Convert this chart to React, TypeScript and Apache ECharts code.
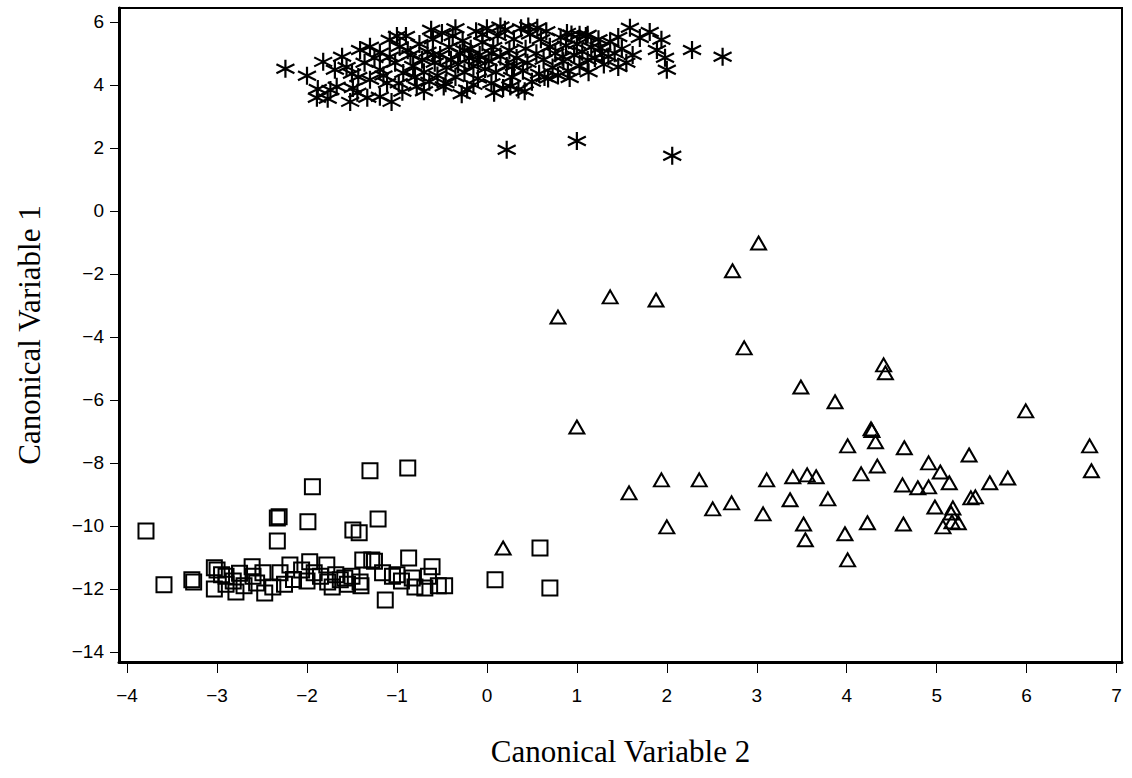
import React, { useEffect, useRef } from "react";
import * as echarts from "echarts";

const xTicks = [-4, -3, -2, -1, 0, 1, 2, 3, 4, 5, 6, 7];
const yTicks = [-14, -12, -10, -8, -6, -4, -2, 0, 2, 4, 6];

const starPoints: [number, number][] = [
  [-2.24, 4.51], [-2.0, 4.29], [-1.88, 3.87], [-1.89, 3.59], [-1.77, 3.56], [-1.74, 3.84],
  [-1.82, 4.73], [-1.69, 4.48], [-1.61, 4.89], [-1.67, 3.94], [-1.56, 4.57], [-1.52, 3.46],
  [-1.49, 3.9], [-1.44, 3.75], [-1.43, 4.25], [-1.41, 5.11], [-1.36, 4.7], [-1.33, 3.59],
  [-1.3, 4.16], [-1.3, 5.21], [-1.19, 3.62], [-1.19, 4.48], [-1.19, 5.02], [-1.11, 4.06],
  [-1.08, 4.89], [-1.08, 5.43], [-1.06, 3.46], [-1.02, 4.7], [-0.97, 5.21], [-0.94, 3.78],
  [-0.93, 4.38], [-1.25, 4.85], [-1.5, 4.35], [-1.15, 4.3], [-0.98, 4.05], [-1.0, 5.55],
  [-0.9, 5.55], [-0.85, 4.95], [-0.82, 4.6], [-0.8, 4.25], [-0.78, 3.95], [-0.75, 5.3],
  [-0.72, 4.8], [-0.7, 4.4], [-0.66, 5.05], [-0.64, 4.1], [-0.6, 5.45], [-0.58, 4.7],
  [-0.55, 4.3], [-0.52, 4.95], [-0.5, 5.65], [-0.48, 3.95], [-0.45, 4.55], [-0.42, 5.2],
  [-0.4, 4.8], [-0.38, 5.55], [-0.35, 4.25], [-0.32, 4.65], [-0.3, 5.0], [-0.27, 5.4],
  [-0.25, 4.4], [-0.22, 3.85], [-0.2, 4.85], [-0.18, 5.15], [-0.15, 4.6], [-0.12, 5.7],
  [-0.1, 4.2], [-0.08, 4.95], [-0.05, 5.35], [-0.02, 4.5], [0.0, 5.8], [0.02, 4.75],
  [0.05, 4.05], [0.07, 5.2], [0.1, 4.4], [0.12, 5.55], [0.15, 4.9], [0.18, 3.9],
  [0.2, 5.75], [0.22, 4.6], [0.25, 5.1], [0.28, 4.25], [0.3, 5.45], [0.33, 4.85],
  [0.35, 3.85], [0.38, 5.8], [0.4, 4.45], [0.43, 5.15], [0.45, 4.7], [0.48, 5.6],
  [0.5, 4.1], [-0.88, 5.1], [-0.7, 3.8], [-0.62, 5.75], [-0.46, 4.05], [-0.28, 3.7],
  [-0.15, 4.0], [0.08, 3.75], [0.26, 3.95], [0.42, 3.8], [0.46, 5.85], [-0.35, 5.8],
  [-0.05, 5.6], [0.15, 5.85], [-0.6, 4.95], [-0.25, 5.1], [0.3, 4.6], [-0.1, 4.8],
  [0.05, 5.0], [0.55, 5.0], [0.58, 4.35], [0.6, 5.45], [0.63, 4.8], [0.66, 5.7],
  [0.68, 4.2], [0.7, 5.2], [0.73, 4.55], [0.76, 5.0], [0.79, 4.3], [0.82, 5.5],
  [0.85, 4.75], [0.88, 5.25], [0.9, 4.45], [0.94, 5.6], [0.97, 4.95], [1.0, 5.3],
  [1.03, 4.6], [1.06, 5.05], [1.1, 5.55], [1.13, 4.4], [1.16, 5.2], [1.2, 4.85],
  [1.24, 5.45], [1.28, 5.0], [0.56, 5.81], [0.89, 5.65], [1.03, 5.59], [1.12, 5.59],
  [0.84, 4.89], [0.7, 5.21], [0.64, 4.25], [0.92, 4.22], [1.12, 4.79], [1.26, 5.17],
  [1.37, 5.37], [1.46, 5.52], [1.46, 4.57], [1.59, 5.81], [1.62, 4.95], [1.7, 5.49],
  [1.81, 5.68], [1.89, 5.11], [1.94, 5.43], [1.98, 4.86], [2.0, 4.48], [2.28, 5.11],
  [2.62, 4.89], [1.35, 4.9], [1.5, 5.15], [1.55, 4.7], [1.42, 5.0], [1.3, 4.65],
  [0.22, 1.94], [1.0, 2.22], [2.06, 1.75],
];

const squarePoints: [number, number][] = [
  [-3.79, -10.16], [-3.59, -11.87], [-3.28, -11.71], [-3.26, -11.78], [-3.03, -11.33],
  [-3.03, -12.0], [-3.0, -11.4], [-2.95, -11.55], [-2.9, -11.6], [-2.82, -11.75],
  [-2.79, -12.1], [-2.75, -11.5], [-2.61, -11.3], [-2.56, -11.81], [-2.47, -12.13],
  [-2.49, -11.49], [-2.38, -11.94], [-2.3, -11.49], [-2.19, -11.24], [-2.06, -11.4],
  [-1.97, -11.14], [-1.92, -11.49], [-1.78, -11.24], [-1.77, -11.78], [-1.72, -11.94],
  [-1.94, -8.76], [-2.31, -9.71], [-2.33, -9.75], [-1.99, -9.87], [-2.33, -10.48],
  [-1.3, -8.25], [-0.88, -8.16], [-1.21, -9.78], [-1.49, -10.13], [-1.42, -10.22],
  [-1.38, -11.08], [-1.28, -11.08], [-1.25, -11.12], [-0.87, -11.02], [-0.61, -11.3],
  [-1.16, -11.49], [-1.13, -12.35], [-0.83, -11.65], [-0.8, -11.94], [-0.69, -11.97],
  [-0.54, -11.9], [-0.47, -11.9], [-1.63, -11.71], [-1.58, -11.65], [-1.41, -11.78],
  [-1.4, -11.9], [-1.55, -11.85], [-1.5, -11.6], [-1.68, -11.55], [-1.85, -11.6],
  [-2.0, -11.75], [-2.15, -11.7], [-2.25, -11.85], [-2.6, -11.6], [-2.7, -11.9],
  [-2.9, -11.85], [-1.05, -11.6], [-0.95, -11.75], [-1.0, -11.55], [-0.65, -11.6],
  [0.09, -11.71], [0.59, -10.7], [0.7, -11.97],
];

const trianglePoints: [number, number][] = [
  [0.18, -10.7], [0.79, -3.37], [1.0, -6.86], [1.37, -2.73], [1.88, -2.83], [2.73, -1.9],
  [3.02, -1.02], [2.86, -4.35], [3.49, -5.59], [4.41, -4.89], [4.43, -5.14], [3.87, -6.06],
  [5.99, -6.35], [4.27, -6.92], [4.28, -6.97], [4.32, -7.33], [4.01, -7.46], [4.64, -7.52],
  [6.7, -7.46], [6.72, -8.25], [4.34, -8.1], [4.16, -8.35], [5.36, -7.75], [4.91, -8.0],
  [5.04, -8.29], [5.14, -8.63], [4.62, -8.7], [4.79, -8.79], [4.91, -8.76], [5.59, -8.63],
  [5.79, -8.48], [3.4, -8.44], [3.56, -8.38], [3.66, -8.44], [3.37, -9.17], [3.79, -9.14],
  [4.98, -9.4], [5.18, -9.43], [5.16, -9.59], [5.38, -9.11], [5.43, -9.08], [3.52, -9.94],
  [3.54, -10.44], [4.23, -9.9], [4.63, -9.94], [5.07, -10.03], [5.17, -9.87], [5.24, -9.9],
  [3.98, -10.25], [4.01, -11.08], [1.58, -8.95], [1.94, -8.54], [2.36, -8.54], [2.0, -10.03],
  [2.51, -9.46], [2.72, -9.27], [3.11, -8.54], [3.07, -9.62],
];

const ASTERISK = "path://M10,0 L10,20 M1.34,5 L18.66,15 M1.34,15 L18.66,5";

const fmt = (v: number) => (v < 0 ? "\u2212" + Math.abs(v) : String(v));

export default function App() {
  const ref = useRef<HTMLDivElement>(null);
  useEffect(() => {
    if (!ref.current) return;
    const chart = echarts.init(ref.current, undefined, { renderer: "svg" });
    const tickFont = { fontFamily: "Liberation Sans", fontSize: 19, color: "#000" };
    const nameFont = { fontFamily: "Liberation Serif", fontSize: 31, color: "#000" };
    chart.setOption({
      animation: false,
      backgroundColor: "#fff",
      grid: {
        left: 119, right: 10, top: 8, bottom: 116,
        show: true, borderColor: "#000", borderWidth: 2,
        containLabel: false, outerBoundsMode: "none",
      },
      xAxis: {
        type: "value", min: -4.09, max: 7.06,
        name: "Canonical Variable 2", nameLocation: "middle", nameGap: 74,
        nameTextStyle: nameFont,
        splitLine: { show: false },
        axisLine: { show: true, onZero: false, lineStyle: { color: "#000", width: 3 } },
        axisTick: { show: true, length: 11, customValues: xTicks, lineStyle: { color: "#000", width: 1 } },
        axisLabel: { ...tickFont, margin: 24, customValues: xTicks, formatter: fmt },
      },
      yAxis: {
        type: "value", min: -14.32, max: 6.44,
        name: "Canonical Variable 1", nameLocation: "middle", nameGap: 74,
        nameTextStyle: nameFont,
        splitLine: { show: false },
        axisLine: { show: true, onZero: false, lineStyle: { color: "#000", width: 3 } },
        axisTick: { show: true, length: 9, customValues: yTicks, lineStyle: { color: "#000", width: 1 } },
        axisLabel: { ...tickFont, margin: 15, customValues: yTicks, formatter: fmt },
      },
      series: [
        {
          type: "scatter", data: squarePoints, symbol: "rect", symbolSize: 15,
          itemStyle: { color: "transparent", borderColor: "#000", borderWidth: 2, opacity: 1 },
        },
        {
          type: "scatter", data: trianglePoints, symbol: "triangle", symbolSize: [15, 13],
          itemStyle: { color: "transparent", borderColor: "#000", borderWidth: 2, opacity: 1 },
        },
        {
          type: "scatter", data: starPoints, symbol: ASTERISK, symbolSize: [18, 18],
          itemStyle: { color: "none", borderColor: "#000", borderWidth: 2.2, opacity: 1 },
        },
      ],
    });
    return () => chart.dispose();
  }, []);
  return (
    <div
      ref={ref}
      style={{ position: "absolute", left: 0, top: 0, width: 1132, height: 778 }}
    />
  );
}
